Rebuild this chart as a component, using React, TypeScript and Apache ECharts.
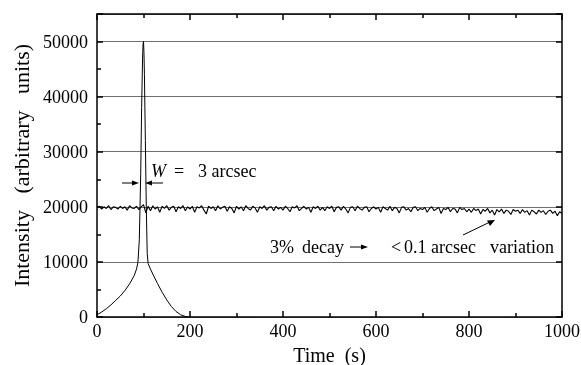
import React, { useEffect, useRef } from "react";
import * as echarts from "echarts";

const peakTimes = [0, 10, 20, 30, 40, 50, 60, 70, 80, 85, 88, 91, 94, 96, 98, 99, 100, 101, 102, 104, 106, 108, 110, 115, 120, 130, 140, 150, 160, 170, 180, 190, 197];
const peakValues = [400, 900, 1500, 2200, 3000, 3800, 4800, 6000, 7500, 8700, 9900, 14000, 26000, 38000, 47000, 49500, 50000, 48000, 44000, 32000, 20000, 11500, 9700, 8700, 7800, 6100, 4500, 3100, 1900, 1000, 400, 100, 0];

const noiseStep = 5;
const noiseValues = [
  19900, 20100, 19600, 20000, 19700, 20200, 19500, 20000, 19900, 19600, 20100, 19700, 20000, 19400, 20200, 19800, 19700, 20100, 19500, 20000,
  20400, 18900, 20100, 19300, 20200, 19600, 20000, 19000, 20100, 19700, 20200, 19400, 19900, 20100, 19100, 20000, 19700, 20200, 19300, 20000,
  19600, 20100, 19000, 20000, 19800, 20200, 19400, 18700, 20100, 19700, 20000, 19300, 20200, 19600, 19900, 20100, 19200, 20000, 19700, 18900,
  20100, 19600, 20000, 19300, 20200, 19700, 19400, 20100, 19800, 19000, 20000, 19700, 20200, 19400, 19900, 20000, 19300, 20100, 19600, 19900,
  19400, 20100, 19700, 19100, 20000, 19800, 20200, 19300, 19700, 20100, 19600, 19900, 19000, 20000, 19700, 20100, 19400, 19900, 19300, 20000,
  19700, 20100, 19100, 19900, 20000, 19400, 20100, 19600, 18900, 19900, 20000, 19300, 20100, 19700, 19400, 19900, 20000, 19100, 19700, 20000,
  19600, 19900, 19000, 20000, 19700, 19400, 20100, 19300, 19900, 19700, 18900, 19900, 20000, 19400, 19700, 19100, 19900, 20000, 19300, 19700,
  19500, 19900, 19000, 19700, 20000, 19300, 19600, 19900, 18800, 19700, 19500, 19900, 19100, 19700, 19600, 18900, 19900, 19500, 19700, 19100,
  19600, 19000, 19700, 19300, 19600, 18700, 19500, 19200, 19700, 18900, 19400, 18500, 19500, 19100, 19600, 18800, 19400, 19200, 18600, 19500,
  19200, 19400, 18800, 19500, 19000, 19300, 18500, 19400, 19100, 18700, 19400, 19000, 19300, 18600, 19200, 19400, 18800, 19200, 18400, 19100,
  18800,
];

const FONT = "Liberation Serif";

export default function App() {
  const ref = useRef<HTMLDivElement>(null);
  useEffect(() => {
    if (!ref.current) return;
    const chart = echarts.init(ref.current, undefined, { renderer: "svg" });
    const peakData = peakTimes.map((t, i) => [t, peakValues[i]]);
    const noiseData = noiseValues.map((v, i) => [i * noiseStep, v]);
    const arrowHead = (x: number, y: number, dir: number) => ({
      type: "polygon",
      shape: { points: [[x, y], [x - 7 * dir, y - 2.5], [x - 7 * dir, y + 2.5]] },
      style: { fill: "#000" },
    });
    const hLine = (x1: number, x2: number, y: number) => ({
      type: "line",
      shape: { x1, y1: y, x2, y2: y },
      style: { stroke: "#000", lineWidth: 1 },
    });
    const txt = (x: number, y: number, text: string, italic = false) => ({
      type: "text",
      x,
      y,
      style: {
        text,
        fontFamily: FONT,
        fontSize: 18,
        fontStyle: italic ? "italic" : "normal",
        fill: "#000",
        verticalAlign: "middle",
      },
    });
    const tickStyle = { color: "#000", width: 1.5 };
    chart.setOption({
      animation: false,
      textStyle: { fontFamily: FONT },
      grid: { left: 97, right: 19, top: 14, bottom: 48, outerBoundsMode: "none", containLabel: false },
      xAxis: [
        {
          type: "value",
          min: 0,
          max: 1000,
          interval: 200,
          name: "Time  (s)",
          nameLocation: "middle",
          nameGap: 27,
          nameTextStyle: { fontFamily: FONT, fontSize: 20, color: "#000" },
          axisLine: { onZero: false, lineStyle: { color: "#000", width: 1.5 } },
          axisTick: { inside: true, length: 6, lineStyle: tickStyle },
          minorTick: { show: true, splitNumber: 2, length: 4, lineStyle: tickStyle },
          axisLabel: { fontFamily: FONT, fontSize: 18, color: "#000", margin: 5, formatter: (v: number) => String(v) },
          splitLine: { show: false },
        },
        {
          type: "value",
          position: "top",
          min: 0,
          max: 1000,
          interval: 200,
          axisLine: { show: true, onZero: false, lineStyle: { color: "#000", width: 1.5 } },
          axisTick: { inside: true, length: 6, lineStyle: tickStyle },
          minorTick: { show: true, splitNumber: 2, length: 4, lineStyle: tickStyle },
          axisLabel: { show: false },
          splitLine: { show: false },
        },
      ],
      yAxis: [
        {
          type: "value",
          min: 0,
          max: 55000,
          interval: 10000,
          name: "Intensity   (arbitrary   units)",
          nameLocation: "middle",
          nameGap: 65,
          nameTextStyle: { fontFamily: FONT, fontSize: 22, color: "#000" },
          axisLine: { onZero: false, lineStyle: { color: "#000", width: 1.5 } },
          axisTick: { inside: true, length: 6, lineStyle: tickStyle },
          minorTick: { show: true, splitNumber: 2, length: 4, lineStyle: tickStyle },
          axisLabel: {
            fontFamily: FONT,
            fontSize: 18,
            color: "#000",
            margin: 9,
            formatter: (v: number) => (v > 50000 ? "" : String(v)),
          },
          splitLine: { show: true, lineStyle: { color: "#707070", width: 1.2 } },
        },
        {
          type: "value",
          position: "right",
          min: 0,
          max: 55000,
          interval: 10000,
          axisLine: { show: true, onZero: false, lineStyle: { color: "#000", width: 1.5 } },
          axisTick: { inside: true, length: 6, lineStyle: tickStyle },
          axisLabel: { show: false },
          splitLine: { show: false },
        },
      ],
      series: [
        {
          type: "line",
          data: noiseData,
          showSymbol: false,
          lineStyle: { color: "#000", width: 1.1 },
        },
        {
          type: "line",
          data: peakData,
          showSymbol: false,
          lineStyle: { color: "#000", width: 1 },
        },
      ],
      graphic: [
        txt(151, 171, "W", true),
        txt(174, 171, "="),
        txt(198, 171, "3 arcsec"),
        hLine(122, 136, 183),
        arrowHead(139, 183, 1),
        hLine(148, 163, 183),
        arrowHead(145, 183, -1),
        txt(270, 247, "3%"),
        txt(302, 247, "decay"),
        hLine(350, 364, 247),
        arrowHead(368, 247, 1),
        txt(391, 247, "<"),
        txt(404, 247, "0.1"),
        txt(431, 247, "arcsec"),
        txt(490, 247, "variation"),
        { type: "line", shape: { x1: 463, y1: 235, x2: 490, y2: 222 }, style: { stroke: "#000", lineWidth: 1 } },
        {
          type: "polygon",
          shape: { points: [[495, 220], [487, 220.5], [490, 226]] },
          style: { fill: "#000" },
        },
      ],
    });
    return () => chart.dispose();
  }, []);
  return <div ref={ref} style={{ position: "fixed", left: 0, top: 0, width: 581, height: 365 }} />;
}
